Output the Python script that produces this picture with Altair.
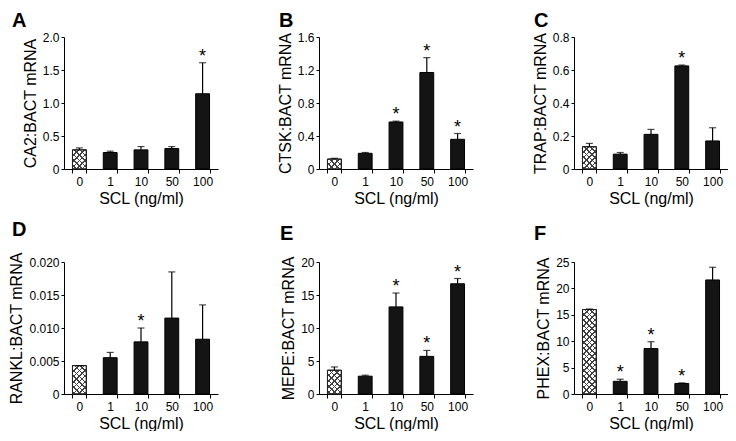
import altair as alt
import pandas as pd

cats = ["0", "1", "10", "50", "100"]
groups = ["ctrl", "trt", "trt", "trt", "trt"]

A_mean = [0.29, 0.25, 0.29, 0.31, 1.14]
A_upper = [0.32, 0.27, 0.34, 0.34, 1.61]
A_star = [False, False, False, False, True]

B_mean = [0.12, 0.19, 0.57, 1.17, 0.36]
B_upper = [0.13, 0.20, 0.58, 1.35, 0.43]
B_star = [False, False, True, True, True]

C_mean = [0.135, 0.09, 0.21, 0.625, 0.17]
C_upper = [0.155, 0.10, 0.24, 0.63, 0.25]
C_star = [False, False, False, True, False]

D_mean = [0.0043, 0.0055, 0.0079, 0.0115, 0.0083]
D_upper = [0.0043, 0.0063, 0.0100, 0.0185, 0.0135]
D_star = [False, False, True, False, False]

E_mean = [3.6, 2.7, 13.2, 5.7, 16.7]
E_upper = [4.1, 2.85, 15.3, 6.6, 17.5]
E_star = [False, False, True, True, True]

F_mean = [16.0, 2.4, 8.6, 2.0, 21.6]
F_upper = [16.1, 2.8, 9.9, 2.1, 24.0]
F_star = [False, True, True, True, False]

FONT = "Liberation Sans"
W, H = 154, 132
PAD_INNER, PAD_OUTER = 0.55, 0.275
CLEAR = "rgba(255,255,255,0)"
INK = "#404040"


def hatch(w, h, flip, period=5.6, line=1.5):
    """Diagonal stripe gradient (style only) sized to the control bar."""
    L = w + h
    a = w * L / (w * w + h * h)
    if flip:
        x1, y1, x2, y2 = 1, 0, 1 - a, a * h / w
    else:
        x1, y1, x2, y2 = 0, 0, a, a * h / w
    stops = []
    k = 0
    while k * period < L:
        o1 = k * period / L
        o2 = min((k * period + line) / L, 1)
        o3 = min((k + 1) * period / L, 1)
        stops += [alt.GradientStop(offset=o1, color=INK),
                  alt.GradientStop(offset=o2, color=INK),
                  alt.GradientStop(offset=o2, color=CLEAR),
                  alt.GradientStop(offset=o3, color=CLEAR)]
        k += 1
    return alt.LinearGradient(gradient="linear", stops=stops,
                              x1=x1, y1=y1, x2=x2, y2=y2)


def panel(letter, ylab, mean, upper, star, ymax, ticks, fmt, dx, toff):
    df = pd.DataFrame({"SCL": cats, "grp": groups, "mean": mean,
                       "upper": upper, "star": star})
    base = alt.Chart(df)
    xs = alt.Scale(paddingInner=PAD_INNER, paddingOuter=PAD_OUTER)
    x = alt.X("SCL:N", sort=cats, scale=xs,
              axis=alt.Axis(title="SCL (ng/ml)", labelAngle=0, tickBand="extent",
                            tickSize=4, labelPadding=3, titlePadding=3))
    y = alt.Y("mean:Q",
              scale=alt.Scale(domain=[0, ymax], nice=False, zero=True),
              axis=alt.Axis(title=ylab, values=ticks, tickCount=20, tickSize=3,
                            labelOverlap=False, labelFlush=False,
                            labelExpr=f"datum.value == 0 ? '0' : format(datum.value, '{fmt}')",
                            titlePadding=4))
    xp = alt.X("SCL:N", sort=cats)
    bars = base.mark_bar(stroke="black", strokeWidth=1).encode(
        x=x, y=y,
        fill=alt.Fill("grp:N", scale=alt.Scale(domain=["ctrl", "trt"],
                                               range=["#ffffff", "#141414"]),
                      legend=None))
    # crosshatch overlay on the control bar
    bw = W / 5 * (1 - PAD_INNER)
    bh = max(mean[0] / ymax * H, 1)
    ctrl = base.transform_filter("datum.grp == 'ctrl'")
    h1 = ctrl.mark_bar(fill=hatch(bw, bh, False), strokeWidth=0).encode(x=xp, y="mean:Q")
    h2 = ctrl.mark_bar(fill=hatch(bw, bh, True), strokeWidth=0).encode(x=xp, y="mean:Q")
    outline = ctrl.mark_bar(fill=None, fillOpacity=0, stroke="#222222",
                            strokeWidth=1).encode(x=xp, y="mean:Q")
    err = base.mark_rule(color="black", strokeWidth=1.2).encode(
        x=xp, y="mean:Q", y2="upper:Q")
    cap = base.mark_tick(color="black", size=7, thickness=1.2).encode(
        x=xp, y="upper:Q")
    stars = base.transform_filter("datum.star").mark_text(
        text="*", fontSize=18, font=FONT, dy=3, baseline="bottom", color="black"
    ).encode(x=xp, y="upper:Q")
    return alt.layer(bars, h1, h2, outline, err, cap, stars).properties(
        width=W, height=H,
        title=alt.TitleParams(letter, anchor="start", frame="group", dx=dx,
                              offset=toff, fontSize=20, fontWeight="bold",
                              font=FONT, color="black"))


pA = panel("A", "CA2:BACT mRNA", A_mean, A_upper, A_star, 2.0,
           [0, 0.5, 1.0, 1.5, 2.0], ".1f", -52, 0)
pB = panel("B", "CTSK:BACT mRNA", B_mean, B_upper, B_star, 1.6,
           [0, 0.4, 0.8, 1.2, 1.6], ".1f", -40, 0)
pC = panel("C", "TRAP:BACT mRNA", C_mean, C_upper, C_star, 0.8,
           [0, 0.2, 0.4, 0.6, 0.8], ".1f", -40, 0)
pD = panel("D", "RANKL:BACT mRNA", D_mean, D_upper, D_star, 0.020,
           [0, 0.005, 0.010, 0.015, 0.020], ".3f", -52, 12)
pE = panel("E", "MEPE:BACT mRNA", E_mean, E_upper, E_star, 20,
           [0, 5, 10, 15, 20], "d", -39, 12)
pF = panel("F", "PHEX:BACT mRNA", F_mean, F_upper, F_star, 25,
           [0, 5, 10, 15, 20, 25], "d", -40, 12)

chart = alt.concat(pA, pB, pC, pD, pE, pF, columns=3,
                   spacing={"row": 93, "column": 101},
                   bounds="flush").properties(
    padding={"top": 3, "left": 0, "right": 0, "bottom": 0}
).configure_view(
    stroke=None
).configure_axis(
    grid=False, domainColor="black", tickColor="black", labelColor="black",
    titleColor="black", labelFont=FONT, titleFont=FONT, labelFontSize=12,
    titleFontSize=16, titleFontWeight="normal", domainWidth=1, tickWidth=1
)

chart.save("out.html", embed_options={"renderer": "svg", "actions": False})
